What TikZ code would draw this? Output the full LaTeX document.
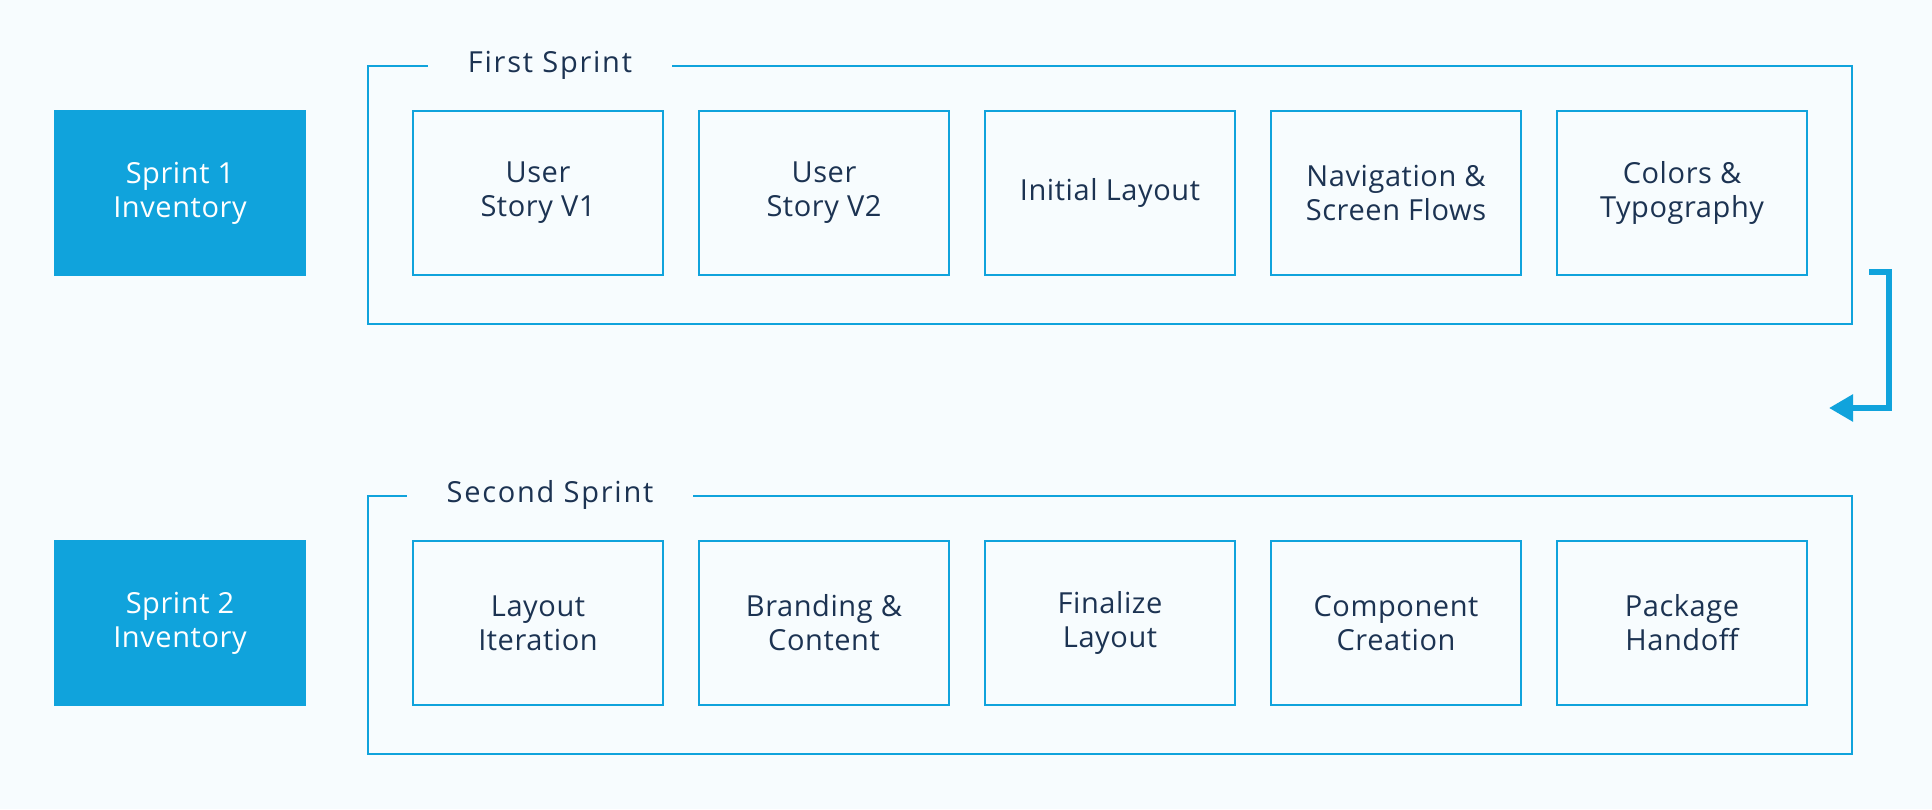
\documentclass[tikz,border=0pt]{standalone}
\usepackage{fontspec}
\setmainfont[LetterSpace=2]{Open Sans}
\usepackage{tikz}
\usetikzlibrary{
    arrows.meta,
    positioning,
    fit
}
\definecolor{sprintblue}{HTML}{10A3DC}
\definecolor{inkblue}{HTML}{1C3352}
\definecolor{paper}{HTML}{F7FCFE}
\tikzstyle{inventory} = [
    rectangle,
    fill=sprintblue,
    text=white,
    minimum width=126pt,
    minimum height=83pt,
    align=center,
    font=\fontsize{14.5}{16.9}\selectfont
]
\tikzstyle{task} = [
    rectangle,
    draw=sprintblue,
    line width=1pt,
    fill=paper,
    text=inkblue,
    minimum width=125pt,
    minimum height=82pt,
    align=center,
    font=\fontsize{14.5}{16.9}\selectfont
]
\tikzstyle{frame} = [
    rectangle,
    draw=sprintblue,
    line width=1pt,
    inner xsep=22pt,
    inner ysep=22pt
]
\tikzstyle{title} = [
    fill=paper,
    text=inkblue,
    inner xsep=20pt,
    inner ysep=2pt,
    font=\fontsize{14.5}{16.9}\selectfont\addfontfeature{LetterSpace=6}
]
\tikzstyle{handoff} = [
    -{Triangle[length=12pt,width=13pt]},
    line width=2.85pt,
    draw=sprintblue
]

\begin{document}
\begin{tikzpicture}[x=0.5pt, y=0.5pt]
        % Page
        \fill[paper] (0,0) rectangle (1932,809);
        \useasboundingbox (0,0) rectangle (1932,809);

        % Inventories
        \node[inventory] (inv1) at (180,616) {Sprint 1\\Inventory};
        \node[inventory] (inv2) at (180,186) {Sprint 2\\Inventory};

        % First sprint tasks
        \node[task] (story1) at (538,616) {User\\Story V1};
        \node[task, right=17pt of story1] (story2) {User\\Story V2};
        \node[task, right=17pt of story2] (layout1) {Initial Layout};
        \node[task, right=17pt of layout1] (nav) {Navigation \&\\Screen Flows};
        \node[task, right=17pt of nav] (colors) {Colors \&\\Typography};

        % Second sprint tasks
        \node[task] (iter) at (538,186) {Layout\\Iteration};
        \node[task, right=17pt of iter] (brand) {Branding \&\\Content};
        \node[task, right=17pt of brand] (final) {Finalize\\Layout};
        \node[task, right=17pt of final] (comp) {Component\\Creation};
        \node[task, right=17pt of comp] (pkg) {Package\\Handoff};

        % Sprint frames (a little more room below the tasks)
        \coordinate (low1) at ([yshift=-2pt]colors.south);
        \coordinate (low2) at ([yshift=-2pt]pkg.south);
        \node[frame, fit=(story1) (colors) (low1)] (frame1) {};
        \node[frame, fit=(iter) (pkg) (low2)] (frame2) {};
        \node[title] (title1) at ([xshift=91.5pt]frame1.north west) {First Sprint};
        \node[title] (title2) at ([xshift=91.5pt]frame2.north west) {Second Sprint};

        % Hand-over between sprints
        \coordinate (loopout) at ([xshift=8pt,yshift=26.5pt]frame1.south east);
        \coordinate (loopturn) at ([xshift=18pt,yshift=26.5pt]frame1.south east);
        \coordinate (loopin) at ([xshift=-12pt,yshift=43.5pt]frame2.north east);
        \draw[handoff] (loopout) -- (loopturn) |- (loopin);
    \end{tikzpicture}
\end{document}
